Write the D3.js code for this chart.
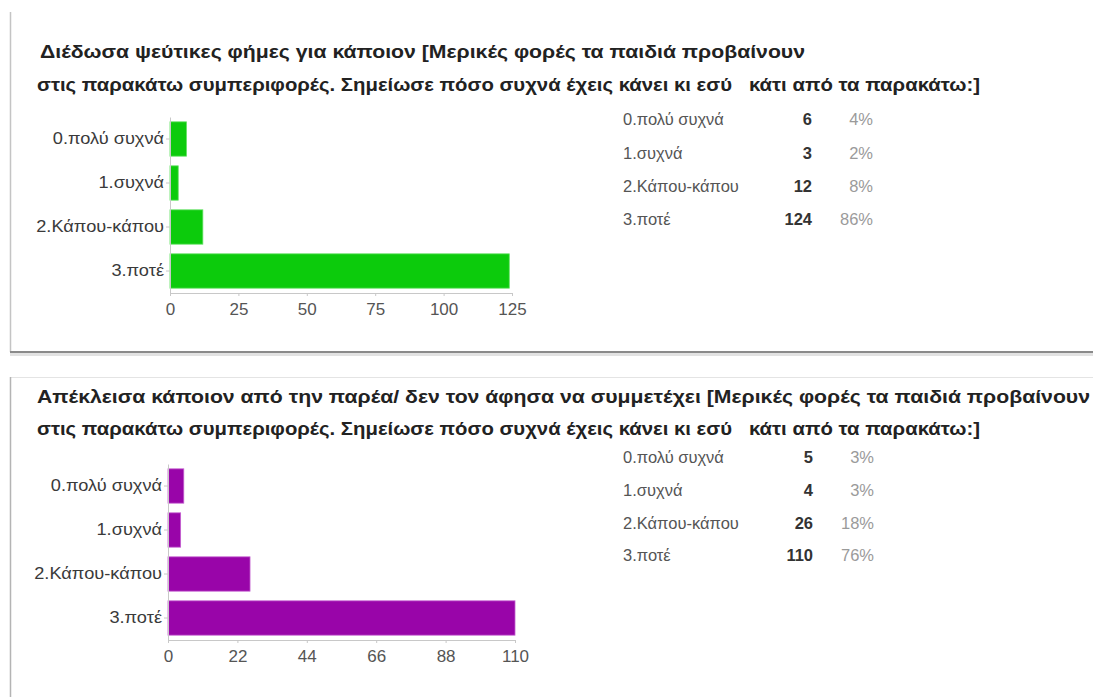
<!DOCTYPE html>
<html>
<head>
<meta charset="utf-8">
<script src="https://cdn.jsdelivr.net/npm/d3@7"></script>
<style>
  html, body { margin: 0; padding: 0; background: #fff; }
  svg { display: block; }
  text { white-space: pre; }
</style>
</head>
<body>
<svg id="chart" width="1093" height="697"></svg>
<script>
// ---------- data ----------
const categories = ["0.πολύ συχνά", "1.συχνά", "2.Κάπου-κάπου", "3.ποτέ"];

const title1 = [
  "Διέδωσα ψεύτικες φήμες για κάποιον [Μερικές φορές τα παιδιά προβαίνουν",
  "στις παρακάτω συμπεριφορές. Σημείωσε πόσο συχνά έχεις κάνει κι εσύ   κάτι από τα παρακάτω:]"
];
const values1 = [6, 3, 12, 124];
const percents1 = ["4%", "2%", "8%", "86%"];
const ticks1 = [0, 25, 50, 75, 100, 125];

const title2 = [
  "Απέκλεισα κάποιον από την παρέα/ δεν τον άφησα να συμμετέχει [Μερικές φορές τα παιδιά προβαίνουν",
  "στις παρακάτω συμπεριφορές. Σημείωσε πόσο συχνά έχεις κάνει κι εσύ   κάτι από τα παρακάτω:]"
];
const values2 = [5, 4, 26, 110];
const percents2 = ["3%", "3%", "18%", "76%"];
const ticks2 = [0, 22, 44, 66, 88, 110];

// ---------- drawing ----------
const svg = d3.select("#chart");
const FONT = "'Liberation Sans', Arial, sans-serif";

function stretch(sel, k) {
  sel.each(function () {
    const w = this.getComputedTextLength();
    d3.select(this).attr("textLength", w * k).attr("lengthAdjust", "spacingAndGlyphs");
  });
}

// panel frames
const frame = svg.append("g");
frame.append("line").attr("x1", 10.5).attr("x2", 10.5).attr("y1", 12).attr("y2", 352)
  .attr("stroke", "#c4c4c4").attr("stroke-width", 1.5);
frame.append("line").attr("x1", 10).attr("x2", 1093).attr("y1", 354.5).attr("y2", 354.5)
  .attr("stroke", "#e2e2e2").attr("stroke-width", 3);
frame.append("line").attr("x1", 10).attr("x2", 1093).attr("y1", 352).attr("y2", 352)
  .attr("stroke", "#8a8a8a").attr("stroke-width", 2);
frame.append("line").attr("x1", 10).attr("x2", 1093).attr("y1", 377.5).attr("y2", 377.5)
  .attr("stroke", "#e4e4e4").attr("stroke-width", 1);
frame.append("line").attr("x1", 10.5).attr("x2", 10.5).attr("y1", 377).attr("y2", 697)
  .attr("stroke", "#b4b4b4").attr("stroke-width", 1.5);

function drawPanel(cfg) {
  const g = svg.append("g");

  // title
  cfg.title.forEach((t, i) => {
    g.append("text")
      .attr("x", cfg.titleX[i]).attr("y", cfg.titleY[i])
      .attr("font-family", FONT).attr("font-weight", "bold").attr("font-size", 17.5)
      .attr("fill", "#222")
      .attr("textLength", cfg.titleW[i]).attr("lengthAdjust", "spacingAndGlyphs")
      .text(t);
  });

  const x = d3.scaleLinear().domain([0, cfg.max]).range([cfg.x0, cfg.x1]);
  const y = d3.scaleBand().domain(categories).range([cfg.y0, cfg.y1])
    .paddingInner(0.22).paddingOuter(0.11);

  // bars
  g.append("g").selectAll("rect").data(categories).join("rect")
    .attr("x", x(0))
    .attr("y", d => y(d))
    .attr("width", (d, i) => x(cfg.values[i]) - x(0))
    .attr("height", y.bandwidth())
    .attr("fill", cfg.color)
    .attr("stroke", cfg.edge).attr("stroke-width", 0.8);

  // y axis
  const yAxis = g.append("g").attr("transform", `translate(${x(0)},0)`)
    .call(d3.axisLeft(y).tickSize(4).tickPadding(2).tickSizeOuter(0));
  yAxis.select(".domain").attr("stroke", "#c8c8c8");
  yAxis.selectAll(".tick line").attr("stroke", "#c8c8c8");
  yAxis.selectAll(".tick text").attr("font-family", FONT).attr("font-size", 17)
    .attr("fill", "#3a3a3a").call(stretch, 1.07);

  // x axis
  const xAxis = g.append("g").attr("transform", `translate(0,${cfg.y1})`)
    .call(d3.axisBottom(x).tickValues(cfg.ticks).tickSize(3).tickPadding(7).tickSizeOuter(0));
  xAxis.select(".domain").attr("stroke", "#c8c8c8");
  xAxis.selectAll(".tick line").attr("stroke", "#c8c8c8");
  xAxis.selectAll(".tick text").attr("font-family", FONT).attr("font-size", 17)
    .attr("fill", "#555");

  // summary table
  const t = g.append("g").attr("font-family", FONT).attr("font-size", 16.5);
  categories.forEach((c, i) => {
    const ty = cfg.tableY[i];
    t.append("text").attr("x", cfg.tableX[0]).attr("y", ty).attr("dy", "0.35em")
      .attr("fill", "#555").text(c);
    t.append("text").attr("x", cfg.tableX[1]).attr("y", ty).attr("dy", "0.35em")
      .attr("text-anchor", "end").attr("font-weight", "bold").attr("fill", "#333")
      .text(cfg.values[i]);
    t.append("text").attr("x", cfg.tableX[2]).attr("y", ty).attr("dy", "0.35em")
      .attr("text-anchor", "end").attr("fill", "#9a9a9a").text(cfg.percents[i]);
  });
}

drawPanel({
  title: title1, titleX: [40, 37], titleY: [58, 91], titleW: [765, 943],
  values: values1, percents: percents1, ticks: ticks1, max: 125,
  x0: 170, x1: 512, y0: 117, y1: 293,
  color: "#0ccb0c", edge: "#5fe05f",
  tableX: [623, 812, 873], tableY: [119, 153, 186, 219]
});

drawPanel({
  title: title2, titleX: [37, 37], titleY: [403, 435], titleW: [1053, 943],
  values: values2, percents: percents2, ticks: ticks2, max: 110,
  x0: 168, x1: 515, y0: 464, y1: 640,
  color: "#9905a9", edge: "#c45fd0",
  tableX: [623, 813, 874], tableY: [457, 490, 523, 555]
});
</script>
</body>
</html>
